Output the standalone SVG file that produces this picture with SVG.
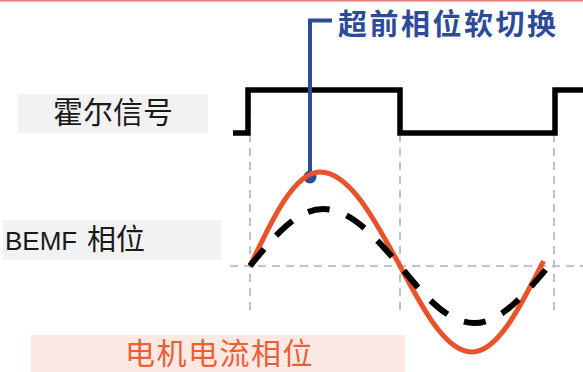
<svg xmlns="http://www.w3.org/2000/svg" width="583" height="372" viewBox="0 0 583 372">
<style>
.grid{stroke:#c3c3c3;stroke-width:2;stroke-dasharray:8 6;fill:none}
.lbl{font-family:"Noto Sans CJK SC","Noto Sans",sans-serif;font-size:30px;fill:#1a1a1a}
.box{fill:#f2f2f2}
</style>
<rect x="0" y="0" width="583" height="1.5" fill="#ea7b7b"/>
<g id="grid">
<line class="grid" x1="250" y1="92" x2="250" y2="312"/>
<line class="grid" x1="400" y1="92" x2="400" y2="312"/>
<line class="grid" x1="554" y1="92" x2="554" y2="312"/>
<line class="grid" x1="230" y1="266" x2="583" y2="266"/>
</g>
<g id="hall-label">
<rect class="box" x="18" y="94" width="190" height="39"/>
<text class="lbl" x="113" y="123" text-anchor="middle">霍尔信号</text>
</g>
<g id="bemf-label">
<rect class="box" x="3" y="220" width="218" height="40"/>
<text class="lbl" y="250"><tspan x="5" font-family="'Liberation Sans',sans-serif" font-size="26">BEMF</tspan><tspan x="87" font-size="29">相位</tspan></text>
</g>
<g id="current-label">
<rect x="31" y="335" width="374" height="37" fill="#fce9e4"/>
<text class="lbl" x="125" y="364" style="fill:#ec5f36;letter-spacing:1.5px">电机电流相位</text>
</g>
<g id="hall-signal">
<path d="M233,133 H248 V90 H400 V133 H555 V90 H583" fill="none" stroke="#000" stroke-width="5.5"/>
</g>
<g id="connectors">
<path d="M332,20.5 H310 V176" fill="none" stroke="#2c4b98" stroke-width="4"/>
<circle cx="310" cy="177" r="6.5" fill="#2c4b98"/>
</g>
<g id="callout">
<text x="338" y="35" font-family="'Noto Sans CJK SC',sans-serif" font-size="29" font-weight="bold" fill="#2c4b98" style="letter-spacing:2.5px">超前相位软切换</text>
</g>
<g id="current-wave">
<path d="M250,266 C272.8,217.8 294.7,172 320,172 C349,172 373.9,217.8 400,266 C423.5,310.1 445.9,352 472,352 C497,352 518.5,310.1 541,266 L543.5,261" fill="none" stroke="#e9532b" stroke-width="5"/>
</g>
<g id="bemf-wave">
<path d="M250,266 C273.8,236.8 296.6,209 323,209 C350.9,209 374.9,236.8 400,266 C424.1,295.2 447.2,323 474,323 C500.8,323 523.9,295.2 549,266" fill="none" stroke="#000" stroke-width="6" stroke-dasharray="22 18"/>
</g>
</svg>
